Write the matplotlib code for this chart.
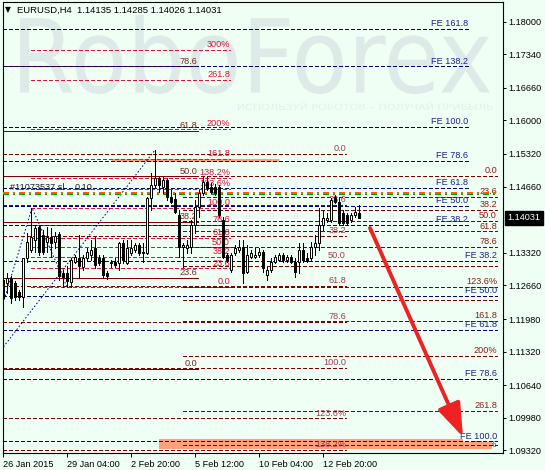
import matplotlib
matplotlib.use('Agg')
import matplotlib.pyplot as plt
from matplotlib.patches import Rectangle, PathPatch
from matplotlib.textpath import TextPath
from matplotlib.font_manager import FontProperties
from matplotlib.transforms import Affine2D, IdentityTransform

plt.rcParams['font.family'] = ['Liberation Sans', 'DejaVu Sans']
plt.rcParams['lines.scale_dashes'] = False

# ---------------- data ----------------
title = 'EURUSD,H4  1.14135 1.14285 1.14026 1.14031'
current_price = 1.14031

opens = [1.1277,1.1271,1.1281,1.1271,1.1253,1.1243,1.1322,1.1338,1.1358,1.1384,
 1.1368,1.1354,1.1364,1.1354,1.1370,1.1291,1.1291,1.1273,1.1313,1.1322,
 1.1303,1.1322,1.1328,1.1342,1.1322,1.1322,1.1291,1.1311,1.1313,1.1311,
 1.1352,1.1311,1.1332,1.1338,1.1348,1.1334,1.1332,1.1443,1.1469,1.1483,
 1.1465,1.1479,1.1445,1.1441,1.1409,1.1344,1.1342,1.1344,1.1388,1.1425,
 1.1453,1.1475,1.1465,1.1465,1.1465,1.1398,1.1328,1.1297,1.1332,1.1338,
 1.1344,1.1293,1.1324,1.1324,1.1328,1.1334,1.1287,1.1297,1.1313,1.1317,
 1.1328,1.1317,1.1324,1.1313,1.1313,1.1338,1.1322,1.1322,1.1344,1.1352,
 1.1388,1.1398,1.1398,1.1443,1.1435,1.1413,1.1409,1.1398,1.1409,1.14135]
highs = [1.1293,1.1291,1.1285,1.1275,1.1257,1.1322,1.1372,1.1423,1.1388,1.1388,
 1.1378,1.1384,1.1382,1.1374,1.1374,1.1297,1.1305,1.1322,1.1328,1.1368,
 1.1328,1.1342,1.1358,1.1364,1.1328,1.1328,1.1295,1.1317,1.1322,1.1354,
 1.1358,1.1358,1.1358,1.1352,1.1352,1.1352,1.1445,1.1493,1.1540,1.1485,
 1.1485,1.1483,1.1459,1.1453,1.1419,1.1352,1.1358,1.1398,1.1439,1.1459,
 1.1485,1.1485,1.1473,1.1471,1.1469,1.1405,1.1332,1.1332,1.1348,1.1358,
 1.1358,1.1348,1.1338,1.1342,1.1342,1.1338,1.1303,1.1322,1.1328,1.1332,
 1.1332,1.1328,1.1328,1.1322,1.1352,1.1352,1.1332,1.1354,1.1368,1.1423,
 1.1419,1.1413,1.1443,1.1449,1.1443,1.1419,1.1413,1.1413,1.1425,1.14285]
lows = [1.1222,1.1251,1.1231,1.1237,1.1237,1.1222,1.1313,1.1334,1.1334,1.1328,
 1.1330,1.1334,1.1324,1.1342,1.1277,1.1263,1.1263,1.1263,1.1311,1.1281,
 1.1297,1.1317,1.1317,1.1301,1.1307,1.1281,1.1279,1.1303,1.1303,1.1297,
 1.1311,1.1309,1.1328,1.1334,1.1328,1.1313,1.1330,1.1419,1.1465,1.1455,
 1.1453,1.1439,1.1433,1.1413,1.1324,1.1303,1.1332,1.1332,1.1372,1.1405,
 1.1449,1.1459,1.1453,1.1449,1.1405,1.1322,1.1313,1.1293,1.1328,1.1334,
 1.1271,1.1291,1.1322,1.1322,1.1324,1.1293,1.1277,1.1293,1.1311,1.1315,
 1.1313,1.1313,1.1311,1.1283,1.1291,1.1313,1.1313,1.1317,1.1328,1.1338,
 1.1378,1.1394,1.1394,1.1433,1.1388,1.1388,1.1388,1.1394,1.1405,1.14026]
closes = [1.1241,1.1281,1.1241,1.1243,1.1243,1.1322,1.1354,1.1364,1.1382,1.1334,
 1.1334,1.1364,1.1352,1.1366,1.1285,1.1283,1.1275,1.1317,1.1324,1.1305,
 1.1322,1.1334,1.1338,1.1307,1.1311,1.1287,1.1285,1.1313,1.1307,1.1352,
 1.1317,1.1342,1.1342,1.1348,1.1332,1.1332,1.1443,1.1469,1.1483,1.1469,
 1.1479,1.1445,1.1435,1.1415,1.1344,1.1348,1.1348,1.1388,1.1425,1.1453,
 1.1475,1.1463,1.1455,1.1453,1.1409,1.1324,1.1317,1.1328,1.1342,1.1344,
 1.1291,1.1328,1.1332,1.1328,1.1334,1.1301,1.1297,1.1313,1.1324,1.1328,
 1.1317,1.1324,1.1313,1.1293,1.1338,1.1317,1.1315,1.1344,1.1352,1.1388,
 1.1403,1.1403,1.1439,1.1435,1.1392,1.1392,1.1392,1.1409,1.1415,1.14031]

x_tick_pos = [0, 16, 32, 48, 64, 80]
x_tick_labels = ['26 Jan 2015', '29 Jan 04:00', '2 Feb 20:00', '5 Feb 12:00',
                 '10 Feb 04:00', '12 Feb 20:00']
y_ticks = [1.18000, 1.17340, 1.16660, 1.16000, 1.15320, 1.14660, 1.13320,
           1.12660, 1.11980, 1.11320, 1.10640, 1.09980, 1.09320]

# Fibonacci retracement tools (anchors at 0% and 100%)
r1_levels = [0, 23.6, 38.2, 50, 61.8, 78.6]
r1_labels = ['0.0', '23.6', '38.2', '50.0', '61.8', '78.6']
r1_p0, r1_p100 = 1.10969, 1.18759

r2_levels = [0, 23.6, 38.2, 50, 61.8, 78.6, 100, 123.6, 138.2, 161.8, 200, 261.8, 300]
r2_labels = ['0.0', '23.6', '38.2', '50.0', '61.8', '78.6', '100.0', '123.6%',
             '138.2%', '161.8', '200%', '261.8', '300%']
r2_p0, r2_p100 = 1.12628, 1.14227

r3_levels = [0, 23.6, 38.2, 50, 61.8, 78.6, 100, 123.6, 138.2, 161.8, 200, 261.8, 300]
r3_labels = ['0.0', '23.6', '38.2', '50.0', '61.8', '78.6', '', '123.6%', '',
             '161.8', '200%', '261.8', '300%']
r3_p0, r3_p100 = 1.14874, 1.13057

r4_levels = [0, 23.6, 38.2, 50, 61.8, 78.6, 100, 123.6, 138.2]
r4_labels = ['0.0', '23.6', '38.2', '50.0', '61.8', '78.6', '100.0', '123.6%', '138.2%']
r4_p0, r4_p100 = 1.15319, 1.10989

# Fibonacci expansion tools
fe1_levels = [38.2, 50.0, 61.8, 78.6, 100.0, 138.2, 161.8]
fe1_zero, fe1_range = 1.12656, 0.03209
fe1_pts_x = [-4.75, 7.25, 16]
fe1_pts_y = [1.1102, 1.1423, 1.1263]

fe2_levels = [38.2, 50.0, 61.8, 78.6, 100.0]
fe2_zero, fe2_range = 1.15404, -0.05902
fe2_pts_x = [-3.75, 38]
fe2_pts_y = [1.1101, 1.1540]

order_sl = 1.1454
order_open = 1.1450
salmon_line = 1.1520
salmon_band = (1.0936, 1.0950)
salmon_strip = (1.0950, 1.0956)
arrow_from = (91.75, 1.13822)
arrow_to = (115.0, 1.09593)

# ---------------- style ----------------
W, H = 545, 470
BG = '#F0FFF4'
NAVY = '#000080'
MAROON = '#800000'
CRIMSON = '#DC143C'
DASH = (2.2, 1.5)
LW = 0.72

fig = plt.figure(figsize=(W / 100, H / 100), dpi=100, facecolor=BG)
ax = fig.add_axes([3 / W, 17 / H, 500 / W, 451.5 / H], facecolor=BG)
ax.set_xlim(0, 125)
ax.set_ylim(1.09269, 1.18405)


# watermark (drawn inside the axes, under every line)
def text_in_box(s, x0, x1, ytop, ybot, color, z, family='DejaVu Sans', weight='normal'):
    tp = TextPath((0, 0), s, size=100, prop=FontProperties(family=family, weight=weight))
    ext = tp.get_extents()
    sx = (x1 - x0) / ext.width
    sy = (ybot - ytop) / ext.height
    tr = Affine2D().translate(-ext.x0, -ext.y0).scale(sx, sy).translate(x0, H - ybot)
    p = PathPatch(tr.transform_path(tp), transform=IdentityTransform(),
                  facecolor=color, edgecolor='none', zorder=z)
    p.set_clip_on(False)
    ax.add_artist(p)

text_in_box('RoboForex', 20, 490, 15, 94, '#DEEAE7', 0.5)
text_in_box('ИСПОЛЬЗУЙ РОБОТОВ – ПОЛУЧАЙ ПРИБЫЛЬ', 238, 493, 102, 110, '#E4F0EC', 0.5)


def hline(y, x0, x1, color, dashed=True, lw=LW, z=2):
    kw = dict(color=color, lw=lw, antialiased=False, zorder=z, solid_capstyle='butt')
    if dashed:
        ax.plot([x0, x1], [y, y], dashes=DASH, **kw)
    else:
        ax.plot([x0, x1], [y, y], **kw)


def label(x, y, s, color, z=3, dy=0.6):
    ax.annotate(s, xy=(x, y), xytext=(0, dy), textcoords='offset points',
                ha='right', va='bottom', fontsize=6.6, color=color, zorder=z,
                annotation_clip=False)

# salmon objects
ax.add_patch(Rectangle((39, salmon_band[0]), 122.25 - 39, salmon_band[1] - salmon_band[0],
                       facecolor='#FFA07A', edgecolor='none', zorder=1.5))
ax.add_patch(Rectangle((39, salmon_strip[0]), 115 - 39, salmon_strip[1] - salmon_strip[0],
                       facecolor='#FFA07A', edgecolor='none', zorder=1.5))
ax.plot([27, 69], [salmon_line, salmon_line], color='#FFA07A', lw=2.2, zorder=1.5,
        solid_capstyle='butt')

# R1 solid retracement
for lv, lb in zip(r1_levels, r1_labels):
    y = r1_p0 + lv / 100 * (r1_p100 - r1_p0)
    hline(y, 0, 48.75, MAROON, dashed=False)
    label(48.6, y, lb, '#7A2424')

# R2
for lv, lb in zip(r2_levels, r2_labels):
    y = r2_p0 + lv / 100 * (r2_p100 - r2_p0)
    hline(y, 7, 56.75, CRIMSON)
    label(56.75, y, lb, CRIMSON)

# R3
for lv, lb in zip(r3_levels, r3_labels):
    y = r3_p0 + lv / 100 * (r3_p100 - r3_p0)
    hline(y, 45, 123.5, MAROON)
    if lb:
        label(123.5, y, lb, '#8B1C1C', z=1.4, dy=(-2.5 if lv == 300 else 0.6))

# R4
for lv, lb in zip(r4_levels, r4_labels):
    y = r4_p0 + lv / 100 * (r4_p100 - r4_p0)
    hline(y, 0, 85.75, MAROON)
    label(85.75, y, lb, '#A0404F')

# FE tools
for lv in fe1_levels:
    y = fe1_zero + lv / 100 * fe1_range
    hline(y, 0, 116.25, NAVY)
    label(116.25, y, 'FE %.1f' % lv, '#20208A')
for lv in fe2_levels:
    y = fe2_zero + lv / 100 * fe2_range
    hline(y, 0, 123.5, NAVY)
    label(123.5, y, 'FE %.1f' % lv, '#20208A', z=3.2)
ax.plot(fe1_pts_x, fe1_pts_y, color=NAVY, lw=LW, dashes=(1.1, 1.5), zorder=2)
ax.plot(fe2_pts_x, fe2_pts_y, color=NAVY, lw=LW, dashes=(1.1, 1.5), zorder=2)

# order lines
ax.plot([0, 123.5], [order_sl, order_sl], color='#FF5A00', lw=1.1,
        dashes=(3.6, 2.9, 1.4, 2.9), zorder=3.5, antialiased=False)
ax.plot([0, 123.5], [order_open, order_open], color='#00A000', lw=0.9,
        dashes=(3.6, 2.9, 1.4, 2.9), zorder=3.5, antialiased=False)
ax.text(1.75, 1.14651, '#11073537 sl', fontsize=6.6, color='#202020', va='center',
        ha='left', zorder=3.6)
ax.text(18, 1.14651, '0.10', fontsize=6.6, color='#202020', va='center', ha='left',
        zorder=3.6)

# candles
xs = list(range(len(opens)))
ax.vlines(xs, lows, highs, color='black', lw=LW, zorder=4, antialiased=False)
bottoms = [min(o, c) for o, c in zip(opens, closes)]
heights = [abs(c - o) for o, c in zip(opens, closes)]
colors = ['white' if c >= o else 'black' for o, c in zip(opens, closes)]
ax.bar(xs, heights, bottom=bottoms, width=0.55, color=colors, edgecolor='black',
       lw=LW, zorder=4.5)

# arrow
ax.annotate('', xy=arrow_to, xytext=arrow_from,
            arrowprops=dict(arrowstyle='-|>,head_length=1.7,head_width=0.6',
                            mutation_scale=12, color='#EE2222', lw=2.8,
                            shrinkA=0, shrinkB=0), zorder=6)

# axes styling
for sp in ax.spines.values():
    sp.set_color('black')
    sp.set_linewidth(0.8)
ax.yaxis.tick_right()
ax.set_yticks(y_ticks)
ax.set_yticklabels(['%.5f' % v for v in y_ticks])
ax.set_xticks(x_tick_pos)
ax.set_xticklabels(x_tick_labels, ha='left')
ax.tick_params(axis='y', length=2.5, width=0.7, pad=1.5, labelsize=6.6, colors='black')
ax.tick_params(axis='x', length=3, width=0.7, pad=2.0, labelsize=6.6, colors='black')

ax.annotate('%.5f' % current_price, xy=(1.0, current_price),
            xycoords=('axes fraction', 'data'), xytext=(3.2, 0), textcoords='offset points',
            ha='left', va='center', fontsize=6.6, color='white',
            bbox=dict(boxstyle='square,pad=0.28', fc='black', ec='black'),
            annotation_clip=False)

fig.text(5 / W, 1 - 10 / H, '▼', fontsize=5.5, color='black', va='center',
         family=['DejaVu Sans'])
fig.text(17 / W, 1 - 10 / H, title, fontsize=6.8, color='black', va='center')

fig.savefig('out.png', dpi=100, facecolor=BG)
